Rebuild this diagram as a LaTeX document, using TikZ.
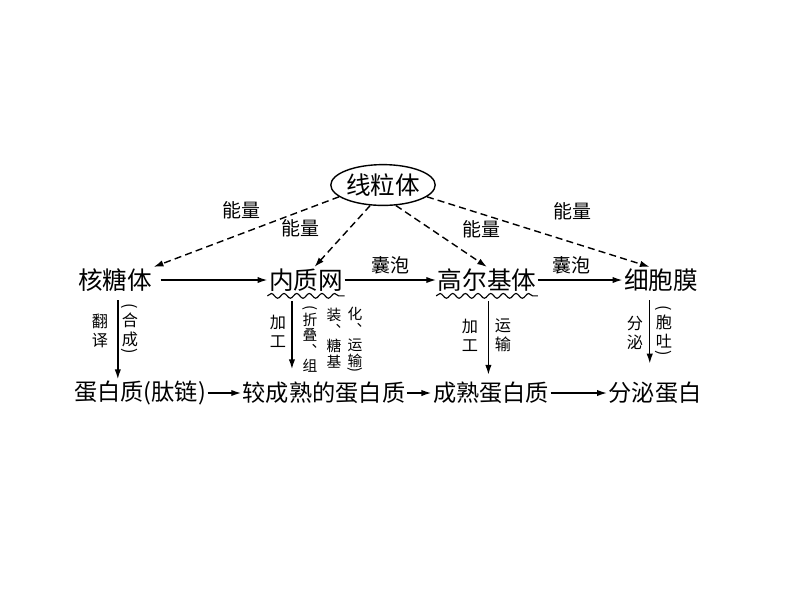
\documentclass[tikz,border=0pt]{standalone}
\usepackage{fontspec}
\usepackage{graphicx}
\newfontfamily\cjk{Noto Sans CJK SC}
\usetikzlibrary{arrows.meta,decorations.pathmorphing,shapes.geometric}
\newcommand\vopen{\rotatebox[origin=c]{-90}{(}}
\newcommand\vclose{\rotatebox[origin=c]{-90}{)}}
\tikzset{
  organ/.style={font=\cjk\fontsize{17.5}{20}\selectfont, inner sep=1pt},
  prot/.style={font=\cjk\fontsize{16.5}{19}\selectfont, inner sep=1pt},
  lbl/.style={font=\cjk\fontsize{13.5}{15}\selectfont, inner sep=0pt},
  vlbl/.style={font=\cjk\fontsize{11.5}{13.5}\selectfont, align=center, inner sep=0pt},
  vsmall/.style={font=\cjk\fontsize{10.5}{11}\selectfont, align=center, inner sep=0pt},
  flow/.style={-{Latex[length=7pt,width=4.5pt]}, line width=1pt},
  energy/.style={flow, dash pattern=on 5pt off 3pt},
  wavy/.style={decorate, decoration={snake, amplitude=1.7pt, segment length=9pt}, line width=0.8pt}
}
\begin{document}
\begin{tikzpicture}[x=0.025cm, y=-0.025cm]
    \useasboundingbox (0,0) rectangle (800,608);

    % Organelles
    \node[organ, ellipse, draw, line width=1pt, minimum width=69pt, minimum height=29pt, inner sep=0pt] (mito) at (383,185) {线粒体};
    \node[organ] (rib) at (115,280) {核糖体};
    \node[organ] (er) at (306,280) {内质网};
    \node[organ] (golgi) at (487,280) {高尔基体};
    \node[organ] (memb) at (661,280) {细胞膜};

    % Proteins
    \node[prot] (p1) at (140,393) {蛋白质(肽链)};
    \node[prot] (p2) at (324,393) {较成熟的蛋白质};
    \node[prot] (p3) at (491,393) {成熟蛋白质};
    \node[prot] (p4) at (655,393) {分泌蛋白};

    % Wavy underlines
    \draw[wavy] ([yshift=-2pt]er.south west) -- ([yshift=-2pt]er.south east);
    \draw[wavy] ([yshift=-2pt]golgi.south west) -- ([yshift=-2pt]golgi.south east);

    % Energy supply
    \draw[energy] (mito.195) -- (rib.north east);
    \draw[energy] (mito.238) -- ([xshift=6pt]er.north);
    \draw[energy] (mito.302) -- (golgi.north);
    \draw[energy] (mito.345) -- ([xshift=-8pt]memb.north);
    \node[lbl] (e1) at (241,210) {能量};
    \node[lbl] (e2) at (300,228) {能量};
    \node[lbl] (e3) at (481,229) {能量};
    \node[lbl] (e4) at (572,211) {能量};

    % Top row
    \draw[flow, shorten <=5pt] (rib) -- (er);
    \draw[flow] (er) -- node[lbl, above=4pt] {囊泡} (golgi);
    \draw[flow] (golgi) -- node[lbl, above=4pt, pos=0.4] {囊泡} (memb);

    % Down arrows
    \draw[flow, shorten <=5pt] ([xshift=2pt]rib.south) -- ([xshift=2pt]rib.south |- p1.north);
    \draw[flow, shorten <=6pt, shorten >=8pt] ([xshift=-10pt]er.south) -- ([xshift=-10pt]er.south |- p2.north);
    \draw[flow, shorten <=6pt, shorten >=4pt] ([xshift=1pt]golgi.south) -- ([xshift=1pt]golgi.south |- p3.north);
    \draw[flow, shorten <=5pt, shorten >=12pt] ([xshift=-8pt]memb.south) -- ([xshift=-8pt]memb.south |- p4.north);
    \node[vlbl] (t1) at (100,331) {翻\\译};
    \node[vlbl] (t2) at (130,330) {\vopen\\[-3pt]合\\成\\[-6pt]\vclose};
    \node[vlbl] (j1) at (278,331) {加\\工};
    \node[vsmall] (j2) at (310,339) {\vopen\\[-2pt]折\\叠\\︑\\组};
    \node[vsmall] (j3) at (334,338) {装\\︑\\糖\\基};
    \node[vsmall] (j4) at (355,341) {化\\︑\\运\\输\\[-5pt]\vclose};
    \node[vlbl] (g1) at (470,335) {加\\工};
    \node[vlbl] (g2) at (503,335) {运\\输};
    \node[vlbl] (m1) at (635,333) {分\\泌};
    \node[vlbl] (m2) at (664,332) {\vopen\\[-3pt]胞\\吐\\[-6pt]\vclose};

    % Bottom row
    \draw[flow] (p1) -- (p2);
    \draw[flow] (p2) -- (p3);
    \draw[flow] (p3) -- (p4);
\end{tikzpicture}
\end{document}
